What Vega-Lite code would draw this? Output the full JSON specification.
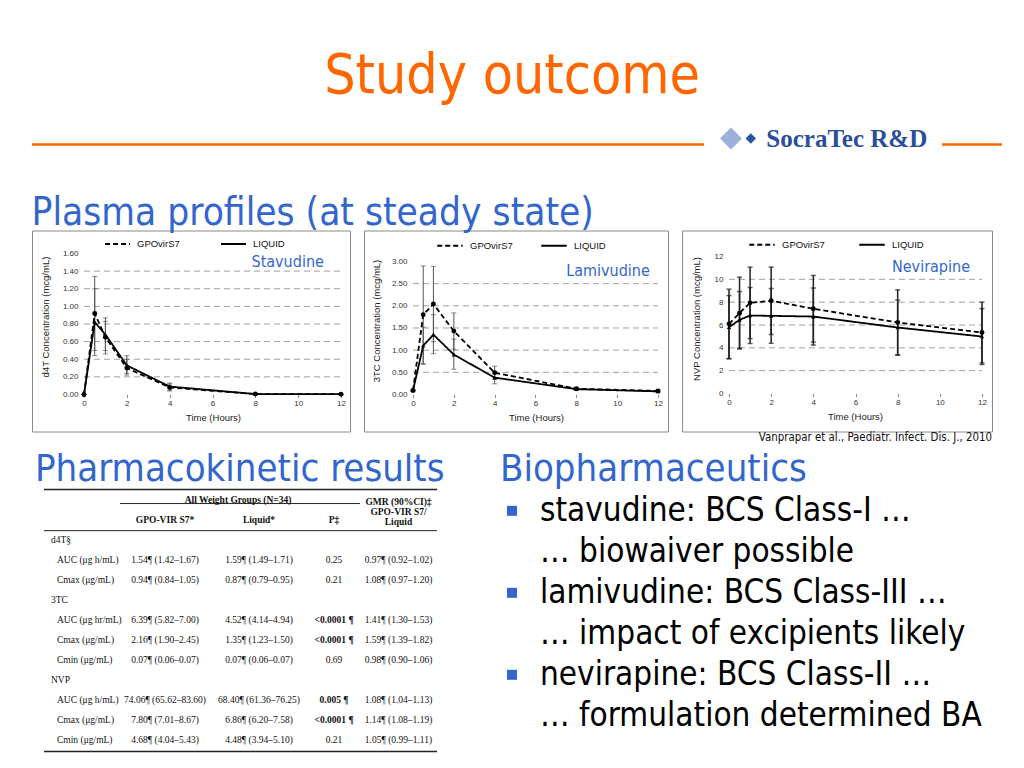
{
  "$schema": "https://vega.github.io/schema/vega-lite/v6.json",
  "background": "white",
  "padding": {"left": 30, "top": 48.5, "right": 20, "bottom": 10},
  "autosize": {"type": "pad"},
  "config": {
    "view": {"stroke": null},
    "font": "Liberation Sans",
    "title": {"fontWeight": "normal"},
    "axis": {"labelFont": "Liberation Sans", "titleFont": "Liberation Sans", "labelColor": "#333", "titleColor": "#222", "labelFontSize": 8, "titleFontSize": 9.5, "titleFontWeight": "normal", "domain": false, "grid": false, "tickColor": "#888", "tickSize": 3, "labelOverlap": false, "labelFlush": false},
    "axisY": {"ticks": false, "labelPadding": 6},
    "axisX": {"labelPadding": 2, "titlePadding": 5},
    "legend": {"labelFont": "Liberation Sans", "labelFontSize": 9.5, "labelColor": "#111", "padding": 0}
  },
  "datasets": {
    "d4t": [
      {"f": "GPOvirS7", "t": 0, "c": 0, "lo": 0, "hi": 0},
      {"f": "GPOvirS7", "t": 0.5, "c": 0.92, "lo": 0.5, "hi": 1.34},
      {"f": "GPOvirS7", "t": 1, "c": 0.65, "lo": 0.46, "hi": 0.83},
      {"f": "GPOvirS7", "t": 2, "c": 0.3, "lo": 0.22, "hi": 0.4},
      {"f": "GPOvirS7", "t": 4, "c": 0.08, "lo": 0.04, "hi": 0.12},
      {"f": "GPOvirS7", "t": 8, "c": 0.005, "lo": 0, "hi": 0.01},
      {"f": "GPOvirS7", "t": 12, "c": 0.003, "lo": 0, "hi": 0.006},
      {"f": "LIQUID", "t": 0, "c": 0, "lo": 0, "hi": 0},
      {"f": "LIQUID", "t": 0.5, "c": 0.82, "lo": 0.44, "hi": 1.2},
      {"f": "LIQUID", "t": 1, "c": 0.68, "lo": 0.5, "hi": 0.87},
      {"f": "LIQUID", "t": 2, "c": 0.33, "lo": 0.24, "hi": 0.44},
      {"f": "LIQUID", "t": 4, "c": 0.09, "lo": 0.05, "hi": 0.13},
      {"f": "LIQUID", "t": 8, "c": 0.005, "lo": 0, "hi": 0.01},
      {"f": "LIQUID", "t": 12, "c": 0.003, "lo": 0, "hi": 0.006}
    ],
    "tc3": [
      {"f": "GPOvirS7", "t": 0, "c": 0.09, "lo": 0.07, "hi": 0.11},
      {"f": "GPOvirS7", "t": 0.5, "c": 1.8, "lo": 0.7, "hi": 2.9},
      {"f": "GPOvirS7", "t": 1, "c": 2.04, "lo": 1.19, "hi": 2.89},
      {"f": "GPOvirS7", "t": 2, "c": 1.43, "lo": 1.02, "hi": 1.84},
      {"f": "GPOvirS7", "t": 4, "c": 0.49, "lo": 0.34, "hi": 0.64},
      {"f": "GPOvirS7", "t": 8, "c": 0.13, "lo": 0.1, "hi": 0.16},
      {"f": "GPOvirS7", "t": 12, "c": 0.08, "lo": 0.06, "hi": 0.1},
      {"f": "LIQUID", "t": 0, "c": 0.09, "lo": 0.07, "hi": 0.11},
      {"f": "LIQUID", "t": 0.5, "c": 1.1, "lo": 0.68, "hi": 1.52},
      {"f": "LIQUID", "t": 1, "c": 1.35, "lo": 0.92, "hi": 1.8},
      {"f": "LIQUID", "t": 2, "c": 0.9, "lo": 0.57, "hi": 1.25},
      {"f": "LIQUID", "t": 4, "c": 0.38, "lo": 0.24, "hi": 0.52},
      {"f": "LIQUID", "t": 8, "c": 0.12, "lo": 0.09, "hi": 0.15},
      {"f": "LIQUID", "t": 12, "c": 0.07, "lo": 0.05, "hi": 0.09}
    ],
    "nvp": [
      {"f": "GPOvirS7", "t": 0, "c": 6.1, "lo": 3.06, "hi": 9.14},
      {"f": "GPOvirS7", "t": 0.5, "c": 7.04, "lo": 3.89, "hi": 10.19},
      {"f": "GPOvirS7", "t": 1, "c": 7.94, "lo": 4.81, "hi": 11.07},
      {"f": "GPOvirS7", "t": 2, "c": 8.12, "lo": 5.17, "hi": 11.07},
      {"f": "GPOvirS7", "t": 4, "c": 7.42, "lo": 4.5, "hi": 10.34},
      {"f": "GPOvirS7", "t": 8, "c": 6.22, "lo": 3.36, "hi": 9.08},
      {"f": "GPOvirS7", "t": 12, "c": 5.34, "lo": 2.68, "hi": 8.0},
      {"f": "LIQUID", "t": 0, "c": 5.81, "lo": 3.04, "hi": 8.58},
      {"f": "LIQUID", "t": 0.5, "c": 6.45, "lo": 3.97, "hi": 8.93},
      {"f": "LIQUID", "t": 1, "c": 6.83, "lo": 4.38, "hi": 9.28},
      {"f": "LIQUID", "t": 2, "c": 6.8, "lo": 4.4, "hi": 9.2},
      {"f": "LIQUID", "t": 4, "c": 6.74, "lo": 4.24, "hi": 9.24},
      {"f": "LIQUID", "t": 8, "c": 5.78, "lo": 3.38, "hi": 8.18},
      {"f": "LIQUID", "t": 12, "c": 4.99, "lo": 2.54, "hi": 7.44}
    ],
    "pk": [
      {"row": 0, "kind": "header", "lab": "", "gpo": "", "liq": "All Weight Groups (N=34)", "p": "", "gmr": "", "sig": false},
      {"row": 1, "kind": "header", "lab": "", "gpo": "GPO-VIR S7*", "liq": "Liquid*", "p": "P‡", "gmr": "GMR (90%CI)‡\nGPO-VIR S7/\nLiquid", "sig": false},
      {"row": 2, "kind": "group", "lab": "d4T§", "gpo": "", "liq": "", "p": "", "gmr": "", "sig": false},
      {"row": 3, "kind": "param", "lab": "AUC (μg h/mL)", "gpo": "1.54¶ (1.42–1.67)", "liq": "1.59¶ (1.49–1.71)", "p": "0.25", "gmr": "0.97¶ (0.92–1.02)", "sig": false},
      {"row": 4, "kind": "param", "lab": "Cmax (μg/mL)", "gpo": "0.94¶ (0.84–1.05)", "liq": "0.87¶ (0.79–0.95)", "p": "0.21", "gmr": "1.08¶ (0.97–1.20)", "sig": false},
      {"row": 5, "kind": "group", "lab": "3TC", "gpo": "", "liq": "", "p": "", "gmr": "", "sig": false},
      {"row": 6, "kind": "param", "lab": "AUC (μg hr/mL)", "gpo": "6.39¶ (5.82–7.00)", "liq": "4.52¶ (4.14–4.94)", "p": "<0.0001 ¶", "gmr": "1.41¶ (1.30–1.53)", "sig": true},
      {"row": 7, "kind": "param", "lab": "Cmax (μg/mL)", "gpo": "2.16¶ (1.90–2.45)", "liq": "1.35¶ (1.23–1.50)", "p": "<0.0001 ¶", "gmr": "1.59¶ (1.39–1.82)", "sig": true},
      {"row": 8, "kind": "param", "lab": "Cmin (μg/mL)", "gpo": "0.07¶ (0.06–0.07)", "liq": "0.07¶ (0.06–0.07)", "p": "0.69", "gmr": "0.98¶ (0.90–1.06)", "sig": false},
      {"row": 9, "kind": "group", "lab": "NVP", "gpo": "", "liq": "", "p": "", "gmr": "", "sig": false},
      {"row": 10, "kind": "param", "lab": "AUC (μg h/mL)", "gpo": "74.06¶ (65.62–83.60)", "liq": "68.40¶ (61.36–76.25)", "p": "0.005 ¶", "gmr": "1.08¶ (1.04–1.13)", "sig": true},
      {"row": 11, "kind": "param", "lab": "Cmax (μg/mL)", "gpo": "7.80¶ (7.01–8.67)", "liq": "6.86¶ (6.20–7.58)", "p": "<0.0001 ¶", "gmr": "1.14¶ (1.08–1.19)", "sig": true},
      {"row": 12, "kind": "param", "lab": "Cmin (μg/mL)", "gpo": "4.68¶ (4.04–5.43)", "liq": "4.48¶ (3.94–5.10)", "p": "0.21", "gmr": "1.05¶ (0.99–1.11)", "sig": false}
    ],
    "bul": [
      {"line": 0, "level": 1, "text": "stavudine: BCS Class-I …"},
      {"line": 1, "level": 2, "text": "… biowaiver possible"},
      {"line": 2, "level": 1, "text": "lamivudine: BCS Class-III …"},
      {"line": 3, "level": 2, "text": "… impact of excipients likely"},
      {"line": 4, "level": 1, "text": "nevirapine: BCS Class-II …"},
      {"line": 5, "level": 2, "text": "… formulation determined BA"}
    ]
  },
  "title": {"text": "Study outcome", "fontSize": 55, "font": "DejaVu Sans Condensed, DejaVu Sans", "color": "#FF6600", "anchor": "middle", "frame": "bounds", "offset": 22.5, "dx": -5},
  "spacing": 7,
  "vconcat": [
    {
      "spacing": 0,
      "bounds": "flush",
      "hconcat": [
        {"width": 672, "height": 41.5, "data": {"values": [{}]}, "mark": {"type": "rule", "color": "#FF6600", "strokeWidth": 2.5},
         "encoding": {"y": {"datum": 1, "type": "quantitative", "scale": {"domain": [0, 1]}, "axis": null}}},
        {"width": 60, "height": 41.5,
         "layer": [
           {"data": {"values": [{}]}, "mark": {"type": "point", "shape": "diamond", "filled": true, "color": "#9DB0DA", "size": 480, "opacity": 1},
            "encoding": {"x": {"datum": 0.45, "type": "quantitative", "scale": {"domain": [0, 1]}, "axis": null}, "y": {"datum": 1.145, "type": "quantitative", "scale": {"domain": [0, 1]}, "axis": null}}},
           {"data": {"values": [{}]}, "mark": {"type": "point", "shape": "diamond", "filled": true, "color": "#2B54A5", "size": 110, "opacity": 1},
            "encoding": {"x": {"datum": 0.78, "type": "quantitative", "scale": {"domain": [0, 1]}, "axis": null}, "y": {"datum": 1.145, "type": "quantitative", "scale": {"domain": [0, 1]}, "axis": null}}}
         ]},
        {"width": 178, "height": 41.5, "data": {"values": [{}]},
         "mark": {"type": "text", "text": "SocraTec R&D", "font": "Liberation Serif", "fontWeight": "bold", "fontSize": 25, "color": "#2B4E9B", "align": "center", "baseline": "alphabetic"},
         "encoding": {"x": {"datum": 0.465, "type": "quantitative", "scale": {"domain": [0, 1]}, "axis": null}, "y": {"datum": 0.928, "type": "quantitative", "scale": {"domain": [0, 1]}, "axis": null}}},
        {"width": 60, "height": 41.5, "data": {"values": [{}]}, "mark": {"type": "rule", "color": "#FF6600", "strokeWidth": 2.5},
         "encoding": {"y": {"datum": 1, "type": "quantitative", "scale": {"domain": [0, 1]}, "axis": null}}}
      ]
    },
    {
      "spacing": 14,
      "bounds": "flush",
      "resolve": {"scale": {"strokeDash": "independent"}, "legend": {"strokeDash": "independent"}},
      "title": {"text": "Plasma profiles (at steady state)", "anchor": "start", "frame": "bounds", "fontSize": 38.5, "font": "DejaVu Sans Condensed, DejaVu Sans", "color": "#3366CC", "offset": -3},
      "hconcat": [
        {
          "width": 318, "height": 201,
          "view": {"stroke": "#8a8a8a", "strokeWidth": 1},
          "data": {"name": "d4t"},
          "layer": [
            {"data": {"values": [{"g": 0.2}, {"g": 0.4}, {"g": 0.6}, {"g": 0.8}, {"g": 1.0}, {"g": 1.2}, {"g": 1.4}]},
             "mark": {"type": "rule", "color": "#a0a0a0", "strokeDash": [6, 4], "strokeWidth": 1},
             "encoding": {
               "y": {"field": "g", "type": "quantitative", "scale": {"domain": [-0.42, 1.861], "nice": false, "zero": false}, "title": "d4T Concentration (mcg/mL)"},
               "x": {"datum": 0, "type": "quantitative", "scale": {"domain": [-2.428, 12.42], "nice": false, "zero": false}, "title": "Time (Hours)"},
               "x2": {"datum": 12}}},
            {"mark": {"type": "errorbar", "ticks": true, "color": "#555", "thickness": 1},
             "encoding": {
               "x": {"field": "t", "type": "quantitative", "scale": {"domain": [-2.428, 12.42], "nice": false, "zero": false}, "title": "Time (Hours)"},
               "y": {"field": "lo", "type": "quantitative", "scale": {"domain": [-0.42, 1.861], "nice": false, "zero": false}, "title": "d4T Concentration (mcg/mL)"},
               "y2": {"field": "hi"}}},
            {"mark": {"type": "line", "color": "black", "strokeWidth": 1.8},
             "encoding": {
               "x": {"field": "t", "type": "quantitative", "scale": {"domain": [-2.428, 12.42], "nice": false, "zero": false},
                     "axis": {"title": "Time (Hours)", "values": [0, 2, 4, 6, 8, 10, 12], "tickCount": 20, "offset": -37, "titleX": 181, "labelOverlap": false}},
               "y": {"field": "c", "type": "quantitative", "scale": {"domain": [-0.42, 1.861], "nice": false, "zero": false},
                     "axis": {"title": "d4T Concentration (mcg/mL)", "values": [0, 0.2, 0.4, 0.6, 0.8, 1.0, 1.2, 1.4, 1.6], "tickCount": 20, "format": ".2f", "offset": -52, "titleY": 86, "titlePadding": 12, "labelOverlap": false}},
               "strokeDash": {"field": "f", "type": "nominal", "scale": {"domain": ["GPOvirS7", "LIQUID"], "range": [[5, 3], [1, 0]]},
                              "legend": {"title": null, "orient": "none", "legendX": 72, "legendY": 0, "direction": "horizontal", "symbolType": "stroke", "symbolSize": 620, "symbolStrokeWidth": 2, "symbolStrokeColor": "black", "columnPadding": 37, "labelOffset": 6}}}},
            {"transform": [{"filter": "datum.f == 'GPOvirS7'"}],
             "mark": {"type": "point", "shape": "circle", "filled": true, "color": "black", "size": 24, "opacity": 1},
             "encoding": {
               "x": {"field": "t", "type": "quantitative", "scale": {"domain": [-2.428, 12.42], "nice": false, "zero": false}, "title": "Time (Hours)"},
               "y": {"field": "c", "type": "quantitative", "scale": {"domain": [-0.42, 1.861], "nice": false, "zero": false}, "title": "d4T Concentration (mcg/mL)"}}},
            {"transform": [{"filter": "datum.f == 'LIQUID'"}],
             "mark": {"type": "point", "shape": "triangle-up", "filled": true, "color": "black", "size": 18, "opacity": 1},
             "encoding": {
               "x": {"field": "t", "type": "quantitative", "scale": {"domain": [-2.428, 12.42], "nice": false, "zero": false}, "title": "Time (Hours)"},
               "y": {"field": "c", "type": "quantitative", "scale": {"domain": [-0.42, 1.861], "nice": false, "zero": false}, "title": "d4T Concentration (mcg/mL)"}}},
            {"data": {"values": [{}]},
             "mark": {"type": "text", "text": "Stavudine", "align": "right", "baseline": "middle", "font": "DejaVu Sans Condensed, DejaVu Sans", "fontSize": 16, "color": "#3366CC"},
             "encoding": {"x": {"datum": 11.2, "type": "quantitative", "title": "Time (Hours)"}, "y": {"datum": 1.5, "type": "quantitative", "title": "d4T Concentration (mcg/mL)"}}}
          ]
        },
        {
          "width": 304, "height": 201,
          "view": {"stroke": "#8a8a8a", "strokeWidth": 1},
          "data": {"name": "tc3"},
          "layer": [
            {"data": {"values": [{"g": 0.5}, {"g": 1.0}, {"g": 1.5}, {"g": 2.0}, {"g": 2.5}]},
             "mark": {"type": "rule", "color": "#a0a0a0", "strokeDash": [6, 4], "strokeWidth": 1},
             "encoding": {
               "y": {"field": "g", "type": "quantitative", "scale": {"domain": [-0.835, 3.699], "nice": false, "zero": false}, "title": "3TC Concentration (mcg/mL)"},
               "x": {"datum": 0, "type": "quantitative", "scale": {"domain": [-2.4, 12.49], "nice": false, "zero": false}, "title": "Time (Hours)"},
               "x2": {"datum": 12}}},
            {"mark": {"type": "errorbar", "ticks": true, "color": "#555", "thickness": 1},
             "encoding": {
               "x": {"field": "t", "type": "quantitative", "scale": {"domain": [-2.4, 12.49], "nice": false, "zero": false}, "title": "Time (Hours)"},
               "y": {"field": "lo", "type": "quantitative", "scale": {"domain": [-0.835, 3.699], "nice": false, "zero": false}, "title": "3TC Concentration (mcg/mL)"},
               "y2": {"field": "hi"}}},
            {"mark": {"type": "line", "color": "black", "strokeWidth": 1.8},
             "encoding": {
               "x": {"field": "t", "type": "quantitative", "scale": {"domain": [-2.4, 12.49], "nice": false, "zero": false},
                     "axis": {"title": "Time (Hours)", "values": [0, 2, 4, 6, 8, 10, 12], "tickCount": 20, "offset": -37, "titleX": 172, "labelOverlap": false}},
               "y": {"field": "c", "type": "quantitative", "scale": {"domain": [-0.835, 3.699], "nice": false, "zero": false},
                     "axis": {"title": "3TC Concentration (mcg/mL)", "values": [0, 0.5, 1.0, 1.5, 2.0, 2.5, 3.0], "tickCount": 20, "format": ".2f", "offset": -49, "titleY": 90, "titlePadding": 10, "labelOverlap": false}},
               "strokeDash": {"field": "f", "type": "nominal", "scale": {"domain": ["GPOvirS7", "LIQUID"], "range": [[5, 3], [1, 0]]},
                              "legend": {"title": null, "orient": "none", "legendX": 72, "legendY": 1, "direction": "horizontal", "symbolType": "stroke", "symbolSize": 650, "symbolStrokeWidth": 2, "symbolStrokeColor": "black", "columnPadding": 24, "labelOffset": 6}}}},
            {"transform": [{"filter": "datum.f == 'GPOvirS7'"}],
             "mark": {"type": "point", "shape": "circle", "filled": true, "color": "black", "size": 24, "opacity": 1},
             "encoding": {
               "x": {"field": "t", "type": "quantitative", "scale": {"domain": [-2.4, 12.49], "nice": false, "zero": false}, "title": "Time (Hours)"},
               "y": {"field": "c", "type": "quantitative", "scale": {"domain": [-0.835, 3.699], "nice": false, "zero": false}, "title": "3TC Concentration (mcg/mL)"}}},
            {"transform": [{"filter": "datum.f == 'LIQUID'"}],
             "mark": {"type": "point", "shape": "triangle-up", "filled": true, "color": "black", "size": 18, "opacity": 1},
             "encoding": {
               "x": {"field": "t", "type": "quantitative", "scale": {"domain": [-2.4, 12.49], "nice": false, "zero": false}, "title": "Time (Hours)"},
               "y": {"field": "c", "type": "quantitative", "scale": {"domain": [-0.835, 3.699], "nice": false, "zero": false}, "title": "3TC Concentration (mcg/mL)"}}},
            {"data": {"values": [{}]},
             "mark": {"type": "text", "text": "Lamivudine", "align": "right", "baseline": "middle", "font": "DejaVu Sans Condensed, DejaVu Sans", "fontSize": 16, "color": "#3366CC"},
             "encoding": {"x": {"datum": 11.6, "type": "quantitative", "title": "Time (Hours)"}, "y": {"datum": 2.78, "type": "quantitative", "title": "3TC Concentration (mcg/mL)"}}}
          ]
        },
        {
          "width": 310, "height": 201,
          "view": {"stroke": "#8a8a8a", "strokeWidth": 1},
          "title": {"text": "Vanprapar et al., Paediatr. Infect. Dis. J., 2010", "orient": "bottom", "anchor": "end", "frame": "group", "fontSize": 11.4, "font": "DejaVu Sans Condensed, DejaVu Sans", "color": "#111", "baseline": "top", "offset": 0},
          "data": {"name": "nvp"},
          "layer": [
            {"data": {"values": [{"g": 2}, {"g": 4}, {"g": 6}, {"g": 8}, {"g": 10}]},
             "mark": {"type": "rule", "color": "#a0a0a0", "strokeDash": [6, 4], "strokeWidth": 1},
             "encoding": {
               "y": {"field": "g", "type": "quantitative", "scale": {"domain": [-3.328, 14.277], "nice": false, "zero": false}, "title": "NVP Concentration (mcg/mL)"},
               "x": {"datum": 0, "type": "quantitative", "scale": {"domain": [-2.229, 12.474], "nice": false, "zero": false}, "title": "Time (Hours)"},
               "x2": {"datum": 12}}},
            {"mark": {"type": "errorbar", "ticks": true, "color": "#222", "thickness": 1.5},
             "encoding": {
               "x": {"field": "t", "type": "quantitative", "scale": {"domain": [-2.229, 12.474], "nice": false, "zero": false}, "title": "Time (Hours)"},
               "y": {"field": "lo", "type": "quantitative", "scale": {"domain": [-3.328, 14.277], "nice": false, "zero": false}, "title": "NVP Concentration (mcg/mL)"},
               "y2": {"field": "hi"}}},
            {"mark": {"type": "line", "color": "black", "strokeWidth": 1.8},
             "encoding": {
               "x": {"field": "t", "type": "quantitative", "scale": {"domain": [-2.229, 12.474], "nice": false, "zero": false},
                     "axis": {"title": "Time (Hours)", "values": [0, 2, 4, 6, 8, 10, 12], "tickCount": 20, "offset": -38, "titleX": 173, "labelOverlap": false}},
               "y": {"field": "c", "type": "quantitative", "scale": {"domain": [-3.328, 14.277], "nice": false, "zero": false},
                     "axis": {"title": "NVP Concentration (mcg/mL)", "values": [0, 2, 4, 6, 8, 10, 12], "tickCount": 20, "format": "d", "offset": -47, "titleY": 88, "titlePadding": 13, "labelOverlap": false}},
               "strokeDash": {"field": "f", "type": "nominal", "scale": {"domain": ["GPOvirS7", "LIQUID"], "range": [[5, 3], [1, 0]]},
                              "legend": {"title": null, "orient": "none", "legendX": 66, "legendY": 0, "direction": "horizontal", "symbolType": "stroke", "symbolSize": 650, "symbolStrokeWidth": 2, "symbolStrokeColor": "black", "columnPadding": 30, "labelOffset": 6}}}},
            {"transform": [{"filter": "datum.f == 'GPOvirS7'"}],
             "mark": {"type": "point", "shape": "circle", "filled": true, "color": "black", "size": 24, "opacity": 1},
             "encoding": {
               "x": {"field": "t", "type": "quantitative", "scale": {"domain": [-2.229, 12.474], "nice": false, "zero": false}, "title": "Time (Hours)"},
               "y": {"field": "c", "type": "quantitative", "scale": {"domain": [-3.328, 14.277], "nice": false, "zero": false}, "title": "NVP Concentration (mcg/mL)"}}},
            {"transform": [{"filter": "datum.f == 'LIQUID'"}],
             "mark": {"type": "point", "shape": "triangle-up", "filled": true, "color": "black", "size": 18, "opacity": 1},
             "encoding": {
               "x": {"field": "t", "type": "quantitative", "scale": {"domain": [-2.229, 12.474], "nice": false, "zero": false}, "title": "Time (Hours)"},
               "y": {"field": "c", "type": "quantitative", "scale": {"domain": [-3.328, 14.277], "nice": false, "zero": false}, "title": "NVP Concentration (mcg/mL)"}}},
            {"data": {"values": [{}]},
             "mark": {"type": "text", "text": "Nevirapine", "align": "right", "baseline": "middle", "font": "DejaVu Sans Condensed, DejaVu Sans", "fontSize": 16, "color": "#3366CC"},
             "encoding": {"x": {"datum": 11.43, "type": "quantitative", "title": "Time (Hours)"}, "y": {"datum": 11.1, "type": "quantitative", "title": "NVP Concentration (mcg/mL)"}}}
          ]
        }
      ]
    },
    {
      "spacing": 0,
      "bounds": "flush",
      "hconcat": [
        {"width": 12, "height": 262, "data": {"values": []}, "mark": "point",
         "title": {"text": "Pharmacokinetic results", "anchor": "start", "frame": "group", "fontSize": 38, "font": "DejaVu Sans Condensed, DejaVu Sans", "color": "#3366CC", "offset": 1, "dx": 3}},
        {
          "width": 76, "height": 262, "data": {"name": "pk"},
          "layer": [
            {"data": {"values": [{}]}, "mark": {"type": "rule", "color": "#222", "strokeWidth": 1.6}, "encoding": {"y": {"datum": -0.5, "type": "quantitative", "scale": {"domain": [-0.5, 12.55], "reverse": true, "nice": false, "zero": false}, "axis": null}}},
            {"data": {"values": [{}]}, "mark": {"type": "rule", "color": "#222", "strokeWidth": 1}, "encoding": {"y": {"datum": 1.55, "type": "quantitative", "scale": {"domain": [-0.5, 12.55], "reverse": true, "nice": false, "zero": false}, "axis": null}}},
            {"data": {"values": [{}]}, "mark": {"type": "rule", "color": "#222", "strokeWidth": 1.6}, "encoding": {"y": {"datum": 12.55, "type": "quantitative", "scale": {"domain": [-0.5, 12.55], "reverse": true, "nice": false, "zero": false}, "axis": null}}},
            {"transform": [{"filter": "datum.kind == 'group'"}],
             "mark": {"type": "text", "align": "left", "baseline": "middle", "font": "Liberation Serif", "fontSize": 9.5, "color": "#111", "dx": 7},
             "encoding": {"x": {"datum": 0, "type": "quantitative", "scale": {"domain": [0, 1]}, "axis": null},
                          "y": {"field": "row", "type": "quantitative", "scale": {"domain": [-0.5, 12.55], "reverse": true, "nice": false, "zero": false}, "axis": null},
                          "text": {"field": "lab", "type": "nominal"}}},
            {"transform": [{"filter": "datum.kind == 'param'"}],
             "mark": {"type": "text", "align": "left", "baseline": "middle", "font": "Liberation Serif", "fontSize": 9.5, "color": "#111", "dx": 13},
             "encoding": {"x": {"datum": 0, "type": "quantitative", "scale": {"domain": [0, 1]}, "axis": null},
                          "y": {"field": "row", "type": "quantitative", "scale": {"domain": [-0.5, 12.55], "reverse": true, "nice": false, "zero": false}, "axis": null},
                          "text": {"field": "lab", "type": "nominal"}}}
          ]
        },
        {
          "width": 90, "height": 262, "data": {"name": "pk"},
          "layer": [
            {"data": {"values": [{}]}, "mark": {"type": "rule", "color": "#222", "strokeWidth": 1.6}, "encoding": {"y": {"datum": -0.5, "type": "quantitative", "scale": {"domain": [-0.5, 12.55], "reverse": true, "nice": false, "zero": false}, "axis": null}}},
            {"data": {"values": [{}]}, "mark": {"type": "rule", "color": "#222", "strokeWidth": 1}, "encoding": {"y": {"datum": 0.2, "type": "quantitative", "scale": {"domain": [-0.5, 12.55], "reverse": true, "nice": false, "zero": false}, "axis": null}}},
            {"data": {"values": [{}]}, "mark": {"type": "rule", "color": "#222", "strokeWidth": 1}, "encoding": {"y": {"datum": 1.55, "type": "quantitative", "scale": {"domain": [-0.5, 12.55], "reverse": true, "nice": false, "zero": false}, "axis": null}}},
            {"data": {"values": [{}]}, "mark": {"type": "rule", "color": "#222", "strokeWidth": 1.6}, "encoding": {"y": {"datum": 12.55, "type": "quantitative", "scale": {"domain": [-0.5, 12.55], "reverse": true, "nice": false, "zero": false}, "axis": null}}},
            {"transform": [{"filter": "datum.kind == 'param'"}],
             "mark": {"type": "text", "baseline": "middle", "font": "Liberation Serif", "fontSize": 9.5, "color": "#111"},
             "encoding": {"y": {"field": "row", "type": "quantitative", "scale": {"domain": [-0.5, 12.55], "reverse": true, "nice": false, "zero": false}, "axis": null},
                          "text": {"field": "gpo", "type": "nominal"}}},
            {"transform": [{"filter": "datum.row == 1"}],
             "mark": {"type": "text", "baseline": "middle", "font": "Liberation Serif", "fontSize": 9.5, "fontWeight": "bold", "color": "#111"},
             "encoding": {"y": {"field": "row", "type": "quantitative", "scale": {"domain": [-0.5, 12.55], "reverse": true, "nice": false, "zero": false}, "axis": null},
                          "text": {"field": "gpo", "type": "nominal"}}}
          ]
        },
        {
          "width": 98, "height": 262, "data": {"name": "pk"},
          "layer": [
            {"data": {"values": [{}]}, "mark": {"type": "rule", "color": "#222", "strokeWidth": 1.6}, "encoding": {"y": {"datum": -0.5, "type": "quantitative", "scale": {"domain": [-0.5, 12.55], "reverse": true, "nice": false, "zero": false}, "axis": null}}},
            {"data": {"values": [{}]}, "mark": {"type": "rule", "color": "#222", "strokeWidth": 1}, "encoding": {"y": {"datum": 0.2, "type": "quantitative", "scale": {"domain": [-0.5, 12.55], "reverse": true, "nice": false, "zero": false}, "axis": null}}},
            {"data": {"values": [{}]}, "mark": {"type": "rule", "color": "#222", "strokeWidth": 1}, "encoding": {"y": {"datum": 1.55, "type": "quantitative", "scale": {"domain": [-0.5, 12.55], "reverse": true, "nice": false, "zero": false}, "axis": null}}},
            {"data": {"values": [{}]}, "mark": {"type": "rule", "color": "#222", "strokeWidth": 1.6}, "encoding": {"y": {"datum": 12.55, "type": "quantitative", "scale": {"domain": [-0.5, 12.55], "reverse": true, "nice": false, "zero": false}, "axis": null}}},
            {"transform": [{"filter": "datum.kind == 'param'"}],
             "mark": {"type": "text", "baseline": "middle", "font": "Liberation Serif", "fontSize": 9.5, "color": "#111"},
             "encoding": {"y": {"field": "row", "type": "quantitative", "scale": {"domain": [-0.5, 12.55], "reverse": true, "nice": false, "zero": false}, "axis": null},
                          "text": {"field": "liq", "type": "nominal"}}},
            {"transform": [{"filter": "datum.row == 1"}],
             "mark": {"type": "text", "baseline": "middle", "font": "Liberation Serif", "fontSize": 9.5, "fontWeight": "bold", "color": "#111"},
             "encoding": {"y": {"field": "row", "type": "quantitative", "scale": {"domain": [-0.5, 12.55], "reverse": true, "nice": false, "zero": false}, "axis": null},
                          "text": {"field": "liq", "type": "nominal"}}},
            {"transform": [{"filter": "datum.row == 0"}],
             "mark": {"type": "text", "baseline": "middle", "font": "Liberation Serif", "fontSize": 9.5, "fontWeight": "bold", "color": "#111", "dx": -21},
             "encoding": {"y": {"field": "row", "type": "quantitative", "scale": {"domain": [-0.5, 12.55], "reverse": true, "nice": false, "zero": false}, "axis": null},
                          "text": {"field": "liq", "type": "nominal"}}}
          ]
        },
        {
          "width": 52, "height": 262, "data": {"name": "pk"},
          "layer": [
            {"data": {"values": [{}]}, "mark": {"type": "rule", "color": "#222", "strokeWidth": 1.6}, "encoding": {"y": {"datum": -0.5, "type": "quantitative", "scale": {"domain": [-0.5, 12.55], "reverse": true, "nice": false, "zero": false}, "axis": null}}},
            {"data": {"values": [{}]}, "mark": {"type": "rule", "color": "#222", "strokeWidth": 1}, "encoding": {"y": {"datum": 0.2, "type": "quantitative", "scale": {"domain": [-0.5, 12.55], "reverse": true, "nice": false, "zero": false}, "axis": null}}},
            {"data": {"values": [{}]}, "mark": {"type": "rule", "color": "#222", "strokeWidth": 1}, "encoding": {"y": {"datum": 1.55, "type": "quantitative", "scale": {"domain": [-0.5, 12.55], "reverse": true, "nice": false, "zero": false}, "axis": null}}},
            {"data": {"values": [{}]}, "mark": {"type": "rule", "color": "#222", "strokeWidth": 1.6}, "encoding": {"y": {"datum": 12.55, "type": "quantitative", "scale": {"domain": [-0.5, 12.55], "reverse": true, "nice": false, "zero": false}, "axis": null}}},
            {"transform": [{"filter": "datum.kind == 'param' && !datum.sig"}],
             "mark": {"type": "text", "baseline": "middle", "font": "Liberation Serif", "fontSize": 9.5, "color": "#111"},
             "encoding": {"y": {"field": "row", "type": "quantitative", "scale": {"domain": [-0.5, 12.55], "reverse": true, "nice": false, "zero": false}, "axis": null},
                          "text": {"field": "p", "type": "nominal"}}},
            {"transform": [{"filter": "datum.row == 1 || datum.sig"}],
             "mark": {"type": "text", "baseline": "middle", "font": "Liberation Serif", "fontSize": 9.5, "fontWeight": "bold", "color": "#111"},
             "encoding": {"y": {"field": "row", "type": "quantitative", "scale": {"domain": [-0.5, 12.55], "reverse": true, "nice": false, "zero": false}, "axis": null},
                          "text": {"field": "p", "type": "nominal"}}}
          ]
        },
        {
          "width": 77, "height": 262, "data": {"name": "pk"},
          "layer": [
            {"data": {"values": [{}]}, "mark": {"type": "rule", "color": "#222", "strokeWidth": 1.6}, "encoding": {"y": {"datum": -0.5, "type": "quantitative", "scale": {"domain": [-0.5, 12.55], "reverse": true, "nice": false, "zero": false}, "axis": null}}},
            {"data": {"values": [{}]}, "mark": {"type": "rule", "color": "#222", "strokeWidth": 1}, "encoding": {"y": {"datum": 1.55, "type": "quantitative", "scale": {"domain": [-0.5, 12.55], "reverse": true, "nice": false, "zero": false}, "axis": null}}},
            {"data": {"values": [{}]}, "mark": {"type": "rule", "color": "#222", "strokeWidth": 1.6}, "encoding": {"y": {"datum": 12.55, "type": "quantitative", "scale": {"domain": [-0.5, 12.55], "reverse": true, "nice": false, "zero": false}, "axis": null}}},
            {"transform": [{"filter": "datum.kind == 'param'"}],
             "mark": {"type": "text", "baseline": "middle", "font": "Liberation Serif", "fontSize": 9.5, "color": "#111"},
             "encoding": {"y": {"field": "row", "type": "quantitative", "scale": {"domain": [-0.5, 12.55], "reverse": true, "nice": false, "zero": false}, "axis": null},
                          "text": {"field": "gmr", "type": "nominal"}}},
            {"transform": [{"filter": "datum.row == 1"}],
             "mark": {"type": "text", "baseline": "middle", "font": "Liberation Serif", "fontSize": 9.5, "fontWeight": "bold", "color": "#111", "lineBreak": "\n", "lineHeight": 10, "dy": -18},
             "encoding": {"y": {"field": "row", "type": "quantitative", "scale": {"domain": [-0.5, 12.55], "reverse": true, "nice": false, "zero": false}, "axis": null},
                          "text": {"field": "gmr", "type": "nominal"}}}
          ]
        },
        {"width": 75, "height": 262, "data": {"values": []}, "mark": "point"},
        {
          "width": 28, "height": 262,
          "title": {"text": "Biopharmaceutics", "anchor": "start", "frame": "group", "fontSize": 38, "font": "DejaVu Sans Condensed, DejaVu Sans", "color": "#3366CC", "offset": 1, "dx": -12},
          "data": {"name": "bul"},
          "layer": [
            {"transform": [{"filter": "datum.level == 1"}],
             "mark": {"type": "square", "filled": true, "size": 100, "color": "#3366CC", "opacity": 1},
             "encoding": {"x": {"datum": 0, "type": "quantitative", "scale": {"domain": [0, 1]}, "axis": null},
                          "y": {"field": "line", "type": "quantitative", "scale": {"domain": [-0.52, 5.87], "reverse": true, "nice": false, "zero": false}, "axis": null}}},
            {"mark": {"type": "text", "align": "left", "baseline": "middle", "font": "DejaVu Sans Condensed, DejaVu Sans", "fontSize": 33, "color": "black"},
             "encoding": {"x": {"datum": 1, "type": "quantitative", "scale": {"domain": [0, 1]}, "axis": null},
                          "y": {"field": "line", "type": "quantitative", "scale": {"domain": [-0.52, 5.87], "reverse": true, "nice": false, "zero": false}, "axis": null},
                          "text": {"field": "text", "type": "nominal"}}}
          ]
        }
      ]
    }
  ]
}
